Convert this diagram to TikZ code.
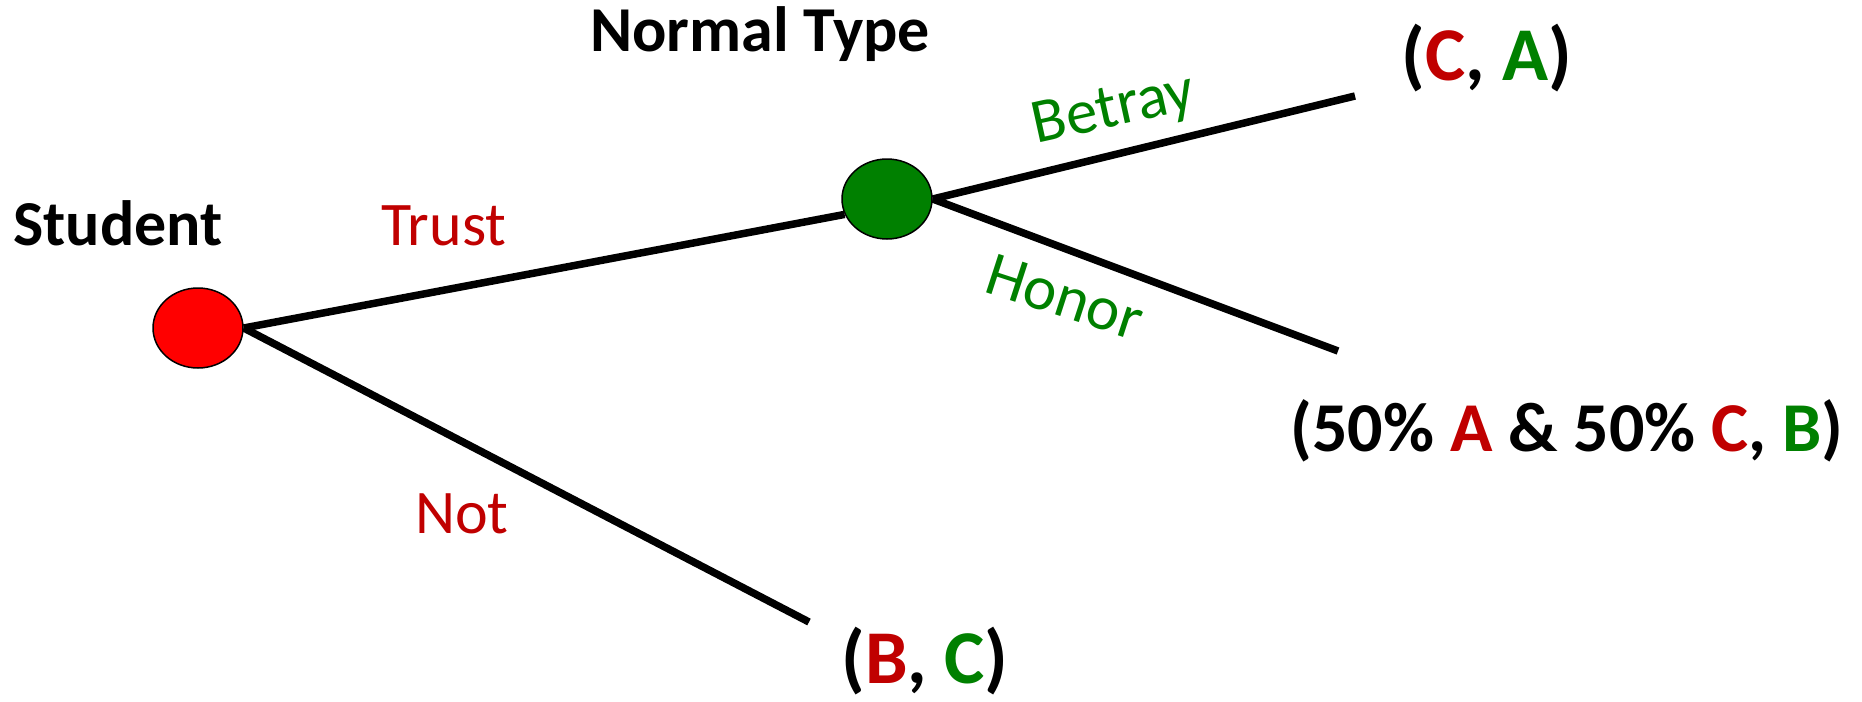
\documentclass[tikz,border=0pt]{standalone}
\usepackage{fontspec}
\setmainfont{Carlito}
\usetikzlibrary{shapes.geometric,backgrounds}
\definecolor{dred}{HTML}{C00000}
\definecolor{dgreen}{HTML}{008000}
\tikzset{
  dot/.style={ellipse,draw=black,line width=1.5pt,minimum width=90pt,minimum height=80pt,inner sep=0pt},
  branch/.style={line width=7.5pt},
  player/.style={anchor=base,font=\fontsize{64}{77}\selectfont\bfseries},
  move/.style={font=\fontsize{62}{74}\selectfont},
  slanted move/.style={font=\fontsize{63}{75}\selectfont,text=dgreen},
  payoff/.style={anchor=base,font=\fontsize{76}{90}\selectfont\bfseries},
}
\begin{document}
\begin{tikzpicture}[x=1pt,y=-1pt]
\useasboundingbox (0,0) rectangle (1862,701);
\node[dot,fill=red] (s) at (198,328) {};
\node[dot,fill=dgreen] (n) at (887,199) {};
\coordinate (ca) at (1355,96);
\coordinate (ab) at (1338,351);
\coordinate (bc) at (809,622);
\begin{scope}[on background layer]
\draw[branch] (s.east) -- (n.200);
\draw[branch] (s.east) -- (bc);
\draw[branch] (n.east) -- (ca);
\draw[branch] (n.east) -- (ab);
\end{scope}
\node[player] (student) at (118,245) {Student};
\node[player] (normal) at (760,52) {Normal Type};
\node[move,anchor=base,text=dred] (trust) at (444,245) {Trust};
\node[move,anchor=base,text=dred] (not) at (462,533) {Not};
\node[slanted move,rotate=12.4] (betray) at (1114,111) {Betray};
\node[slanted move,rotate=-18] (honor) at (1065,297) {Honor};
\node[payoff] (pca) at (1487,80) {(\textcolor{dred}{C}, \textcolor{dgreen}{A})};
\node[payoff,font=\fontsize{70}{84}\selectfont\bfseries] (pab) at (1567,451) {(50\% \textcolor{dred}{A} \& 50\% \textcolor{dred}{C}, \textcolor{dgreen}{B})};
\node[payoff] (pbc) at (925,683) {(\textcolor{dred}{B}, \textcolor{dgreen}{C})};
\end{tikzpicture}
\end{document}
